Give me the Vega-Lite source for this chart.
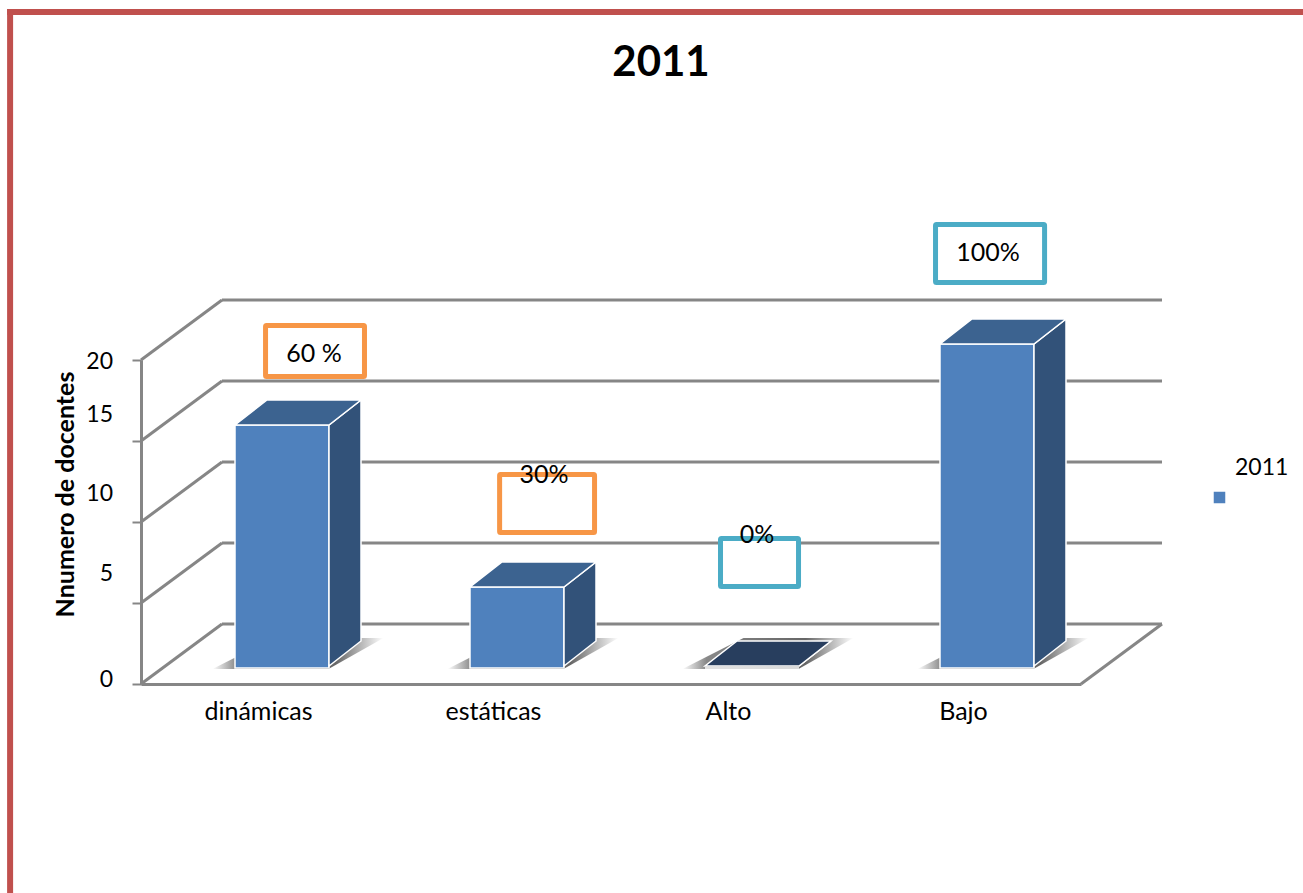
{
"$schema":"https://vega.github.io/schema/vega-lite/v6.json",
"width":940,"height":324,
"autosize":"none",
"padding":{"left":141,"top":360,"right":222,"bottom":209},
"background":"white",
"config":{"view":{"stroke":null},"font":"Lato"},
"title":{"text":"2011","fontSize":42,"fontWeight":"bold","font":"Lato","color":"black","anchor":"middle","dx":50,"offset":-77,"frame":"group"},
"datasets":{
"barras":[
{"categoria":"dinámicas","docentes":15,"serie":"2011"},
{"categoria":"estáticas","docentes":5,"serie":"2011"},
{"categoria":"Alto","docentes":0,"serie":"2011"},
{"categoria":"Bajo","docentes":20,"serie":"2011"}],
"rejilla":[{"nivel":0},{"nivel":5},{"nivel":10},{"nivel":15},{"nivel":20}],
"escala":[{"t":"0","y":0.37},{"t":"5","y":6.91},{"t":"10","y":11.85},{"t":"15","y":16.73},{"t":"20","y":20}],
"marco":[{"x0":-0.557,"x1":-0.557,"y0":41.48,"y1":-13},{"x0":-0.557,"x1":4.95,"y0":41.48,"y1":41.48}],
"cajas":[
{"x0":0.530,"x1":0.951,"y0":22.13,"y1":18.98,"tipo":"a"},
{"x0":1.526,"x1":1.930,"y0":12.93,"y1":9.35,"tipo":"a"},
{"x0":2.466,"x1":2.798,"y0":8.98,"y1":6.02,"tipo":"b"},
{"x0":3.381,"x1":3.845,"y0":28.36,"y1":24.78,"tipo":"b"}],
"rotulos":[
{"x":0.736,"y":20.49,"t":"60 %"},
{"x":1.715,"y":13.0,"t":"30%"},
{"x":2.621,"y":9.26,"t":"0%"},
{"x":3.604,"y":26.67,"t":"100%"}]
},
"resolve":{"scale":{"x":"independent","shape":"independent"}},
"layer":[
{"data":{"name":"rejilla"},"mark":{"type":"rule","color":"#868686","strokeWidth":3,"xOffset":81,"x2Offset":81,"yOffset":-60},
 "encoding":{"x":{"datum":0,"type":"quantitative","axis":null,"scale":{"domain":[0,4]}},"x2":{"datum":4},"y":{"field":"nivel","type":"quantitative","scale":{"domain":[0,20]},
  "axis":{"values":[0,5,10,15,20],"labels":false,"title":"Nnumero de docentes","titleFont":"Lato","titleFontSize":25,"titleFontWeight":"bold","titleColor":"black","titleX":-63,"titleY":134,
   "tickSize":9,"tickColor":"#868686","tickWidth":2,"domainColor":"#868686","domainWidth":3,"grid":false}}}},
{"data":{"name":"escala"},"mark":{"type":"text","font":"Lato","fontSize":23,"color":"black","align":"right","baseline":"middle","dx":-28,"dy":2},
 "encoding":{"x":{"datum":0,"type":"quantitative","axis":null,"scale":{"domain":[0,4]}},"y":{"field":"y","type":"quantitative","scale":{"domain":[0,20]}},"text":{"field":"t","type":"nominal"}}},
{"data":{"name":"marco"},"mark":{"type":"rule","color":"#c0504d","strokeWidth":6,"strokeCap":"square"},
 "encoding":{"x":{"field":"x0","type":"quantitative","axis":null,"scale":{"domain":[0,4]}},"x2":{"field":"x1"},"y":{"field":"y0","type":"quantitative","scale":{"domain":[0,20]}},"y2":{"field":"y1"}}},
{"data":{"name":"rejilla"},"mark":{"type":"point","shape":"M0 0L81 -60","size":4,"filled":false,"stroke":"#868686","strokeWidth":3,"opacity":1},
 "encoding":{"x":{"datum":0,"type":"quantitative","axis":null,"scale":{"domain":[0,4]}},"y":{"field":"nivel","type":"quantitative","scale":{"domain":[0,20]}}}},
{"data":{"values":[{"nivel":0}]},"mark":{"type":"point","shape":"M0 0L81 -60","size":4,"filled":false,"stroke":"#868686","strokeWidth":3,"opacity":1},
 "encoding":{"x":{"datum":4,"type":"quantitative","axis":null,"scale":{"domain":[0,4]}},"y":{"field":"nivel","type":"quantitative","scale":{"domain":[0,20]}}}},
{"data":{"name":"barras"},"mark":{"type":"point","shape":"M-46 -15L70 -15L125 -46L15 -46Z","size":4,"filled":true,"opacity":1,"strokeWidth":0,
  "fill":{"gradient":"linear","x1":0,"y1":0,"x2":1,"y2":0,"stops":[{"offset":0,"color":"#ffffff"},{"offset":0.14,"color":"#888888"},{"offset":0.72,"color":"#666666"},{"offset":1,"color":"#ffffff"}]}},
 "encoding":{"x":{"field":"categoria","type":"nominal","sort":null,"axis":null,"scale":{"type":"band","domain":["dinámicas","estáticas","Alto","Bajo"],"paddingInner":0.6,"paddingOuter":0.3}},"y":{"datum":0,"type":"quantitative","scale":{"domain":[0,20]}}}},
{"data":{"name":"barras"},"mark":{"type":"bar","stroke":"white","strokeWidth":1.5,"xOffset":23.5,"x2Offset":23.5,"yOffset":-16,"y2Offset":-18,"opacity":1},
 "encoding":{"x":{"field":"categoria","type":"nominal","sort":null,"scale":{"type":"band","domain":["dinámicas","estáticas","Alto","Bajo"],"paddingInner":0.6,"paddingOuter":0.3},
   "axis":{"title":null,"labelAngle":0,"labelFont":"Lato","labelFontSize":25,"labelColor":"black","labelPadding":15,"tickSize":0,"ticks":false,"domainColor":"#868686","domainWidth":3}},
  "y":{"field":"docentes","type":"quantitative","scale":{"domain":[0,20]}},
  "color":{"field":"serie","type":"nominal","scale":{"domain":["2011"],"range":["#4f81bd"]},
   "legend":{"title":null,"orient":"none","legendX":1067,"legendY":126,"symbolType":"square","symbolSize":170,"labelFont":"Lato","labelFontSize":23,"labelColor":"black","labelOffset":4,
    "encoding":{"labels":{"dy":{"value":-30}}}}}}},
{"data":{"name":"barras"},"mark":{"type":"point","size":4,"filled":true,"opacity":1,"fill":"#325279","stroke":"white","strokeWidth":1.5},
 "encoding":{"x":{"field":"categoria","type":"nominal","sort":null,"axis":null,"scale":{"type":"band","domain":["dinámicas","estáticas","Alto","Bajo"],"paddingInner":0.6,"paddingOuter":0.3}},
  "y":{"field":"docentes","type":"quantitative","scale":{"domain":[0,20]}},
  "shape":{"field":"categoria","type":"nominal","legend":null,"scale":{"domain":["dinámicas","estáticas","Alto","Bajo"],"range":["M70.5 -16L102.5 -41L102.5 200L70.5 225Z","M70.5 -16L102.5 -41L102.5 38L70.5 63Z","M70.5 -18L102.5 -43Z","M70.5 -16L102.5 -41L102.5 281L70.5 306Z"]}}}},
{"data":{"name":"barras"},"mark":{"type":"point","size":4,"filled":true,"opacity":1,"stroke":"white","strokeWidth":1.5},
 "encoding":{"x":{"field":"categoria","type":"nominal","sort":null,"axis":null,"scale":{"type":"band","domain":["dinámicas","estáticas","Alto","Bajo"],"paddingInner":0.6,"paddingOuter":0.3}},
  "y":{"field":"docentes","type":"quantitative","scale":{"domain":[0,20]}},
  "fill":{"condition":{"test":"datum.docentes==0","value":"#283e5e"},"value":"#3c6390"},
  "shape":{"field":"categoria","type":"nominal","legend":null,"scale":{"domain":["dinámicas","estáticas","Alto","Bajo"],"range":["M-23.5 -16L70.5 -16L102.5 -41L8.5 -41Z","M-23.5 -16L70.5 -16L102.5 -41L8.5 -41Z","M-23.5 -18L70.5 -18L102.5 -43L8.5 -43Z","M-23.5 -16L70.5 -16L102.5 -41L8.5 -41Z"]}}}},
{"data":{"name":"cajas"},"mark":{"type":"rect","fill":"white","strokeWidth":5,"cornerRadius":1,"opacity":1},
 "encoding":{"x":{"field":"x0","type":"quantitative","axis":null,"scale":{"domain":[0,4]}},"x2":{"field":"x1"},"y":{"field":"y0","type":"quantitative","scale":{"domain":[0,20]}},"y2":{"field":"y1"},
  "stroke":{"field":"tipo","type":"nominal","legend":null,"scale":{"domain":["a","b"],"range":["#f79646","#4bacc6"]}}}},
{"data":{"name":"rotulos"},"mark":{"type":"text","font":"Lato","fontSize":25,"color":"black","align":"center","baseline":"middle","dy":1.5},
 "encoding":{"x":{"field":"x","type":"quantitative","axis":null,"scale":{"domain":[0,4]}},"y":{"field":"y","type":"quantitative","scale":{"domain":[0,20]}},"text":{"field":"t","type":"nominal"}}}
]
}
